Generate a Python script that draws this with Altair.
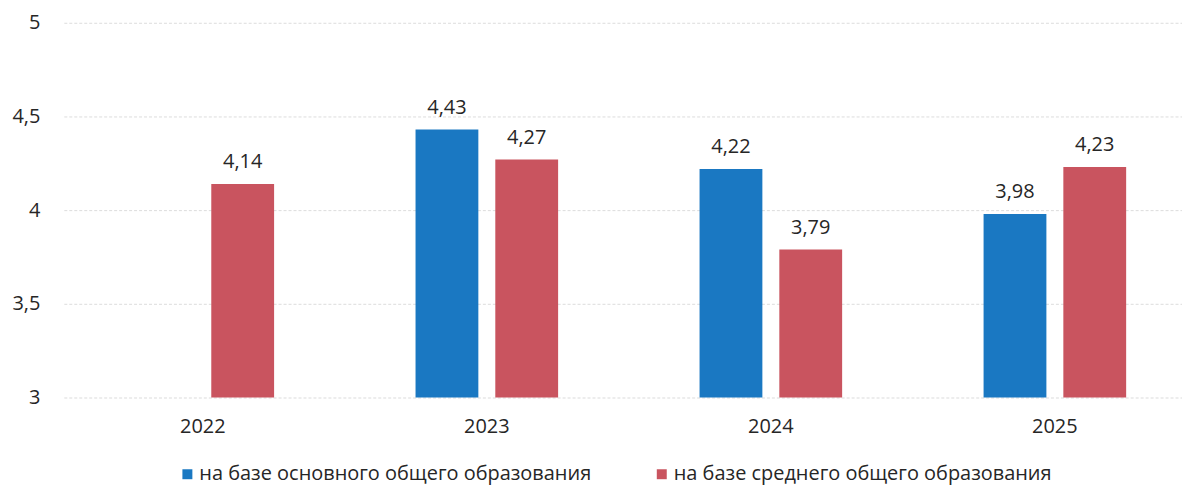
import altair as alt
import pandas as pd

years = ["2022", "2023", "2024", "2025"]
basic = [None, 4.43, 4.22, 3.98]
secondary = [4.14, 4.27, 3.79, 4.23]
series = ["на базе основного общего образования", "на базе среднего общего образования"]
colors = ["#1a78c2", "#c9545f"]
y_ticks = [3, 3.5, 4, 4.5, 5]

rows = []
for yr, b, s in zip(years, basic, secondary):
    if b is not None:
        rows.append({"year": yr, "series": series[0], "value": b})
    rows.append({"year": yr, "series": series[1], "value": s})
df = pd.DataFrame(rows)

font = "Open Sans"
txt = "#262626"

x = alt.X("year:N", sort=years,
          scale=alt.Scale(paddingInner=0.498, paddingOuter=0.2175, align=0.548),
          axis=alt.Axis(title=None, labelAngle=0, ticks=False, domain=False,
                        labelFontSize=20, labelColor=txt, labelPadding=19,
                        labelFont=font))
xo = alt.XOffset("series:N", scale=alt.Scale(domain=series, paddingInner=0.2125))
y = alt.Y("value:Q",
          scale=alt.Scale(domain=[3, 5], zero=False, nice=False),
          axis=alt.Axis(values=y_ticks, title=None, ticks=False, tickSize=0, domain=False,
                        labelFontSize=20, labelColor=txt, labelPadding=24,
                        labelAlign="right", labelBaseline="middle", labelFont=font,
                        labelExpr="replace(toString(datum.value), '.', ',')",
                        grid=True, gridColor="#dcdcdc", gridDash=[3, 2], gridWidth=1))

base = alt.Chart(df)

bars = base.mark_bar().encode(
    x=x, xOffset=xo, y=y, y2=alt.datum(3),
    color=alt.Color("series:N", scale=alt.Scale(domain=series, range=colors),
                    legend=alt.Legend(title=None, orient="none", direction="horizontal",
                                      legendX=114, legendY=443, padding=0,
                                      symbolType="square", symbolSize=100,
                                      symbolStrokeWidth=0, columnPadding=60,
                                      labelOffset=2,
                                      labelFontSize=20, labelFont=font,
                                      labelColor=txt, labelLimit=600))
)

labels = base.transform_calculate(
    lbl="replace(format(datum.value, '.2f'), '.', ',')"
).mark_text(baseline="alphabetic", dy=-16, fontSize=20, font=font, color=txt).encode(
    x=x, xOffset=xo, y=y, text="lbl:N"
)

chart = (bars + labels).properties(
    width=1122, height=376,
    autosize=alt.AutoSizeParams(type="none"),
    padding={"left": 56, "top": 14, "right": 0, "bottom": 92},
).configure_view(stroke=None)

chart.save("out.html", embed_options={"renderer": "svg", "actions": False})
